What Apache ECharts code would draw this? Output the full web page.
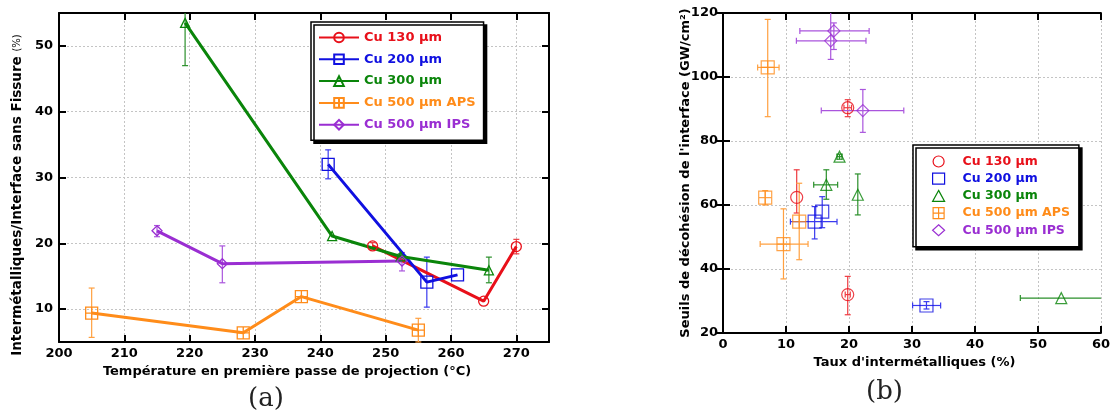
<!DOCTYPE html>
<html>
<head>
<meta charset="utf-8">
<script src="https://cdn.jsdelivr.net/npm/echarts@6/dist/echarts.min.js"></script>
<style>html,body{margin:0;padding:0;background:#fff;}#c{width:1113px;height:414px;}</style>
</head>
<body>
<div id="c"></div>
<script>
// ---------- names ----------
const seriesNames = ['Cu 130 µm', 'Cu 200 µm', 'Cu 300 µm', 'Cu 500 µm APS', 'Cu 500 µm IPS'];

// ---------- (a) temperature vs intermetallic/interface ratio ----------
const tempCu130 = [248, 265, 270];
const ratioCu130 = [19.6, 11.2, 19.5];
const ratioLoCu130 = [19.1, 11.2, 18.4];
const ratioHiCu130 = [20.1, 11.2, 20.6];

const tempCu200 = [241.2, 256.3, 261.0];
const ratioCu200 = [32.0, 14.1, 15.2];
const ratioLoCu200 = [29.8, 10.3, 15.2];
const ratioHiCu200 = [34.2, 17.9, 15.2];

const tempCu300 = [219.3, 241.8, 252.3, 265.8];
const ratioCu300 = [53.5, 21.1, 18.0, 15.9];
const ratioLoCu300 = [47.0, 21.1, 17.6, 14.0];
const ratioHiCu300 = [56.0, 21.1, 18.4, 17.9];

const tempAPS = [205.0, 228.2, 237.1, 255.0];
const ratioAPS = [9.4, 6.4, 11.9, 6.8];
const ratioLoAPS = [5.7, 6.4, 11.9, 5.0];
const ratioHiAPS = [13.2, 6.4, 11.9, 8.6];

const tempIPS = [215.0, 225.0, 252.5];
const ratioIPS = [21.9, 16.9, 17.3];
const ratioLoIPS = [21.0, 14.0, 15.8];
const ratioHiIPS = [22.7, 19.6, 18.6];

// ---------- (b) intermetallic rate vs decohesion threshold ----------
const imcCu130 = [11.7, 19.8, 19.8];
const imcLoCu130 = [11.7, 19.4, 19.2];
const imcHiCu130 = [11.7, 20.2, 20.4];
const thrCu130 = [62.4, 32.0, 90.4];
const thrLoCu130 = [57.5, 25.7, 87.6];
const thrHiCu130 = [71.0, 37.7, 92.9];

const imcCu200 = [15.75, 14.55, 32.3];
const imcLoCu200 = [15.75, 10.7, 30.1];
const imcHiCu200 = [15.75, 18.1, 34.55];
const thrCu200 = [57.9, 54.8, 28.6];
const thrLoCu200 = [52.9, 49.4, 27.5];
const thrHiCu200 = [62.6, 59.5, 29.8];

const imcCu300 = [18.5, 16.4, 21.4, 53.7];
const imcLoCu300 = [18.1, 14.4, 21.4, 47.2];
const imcHiCu300 = [18.9, 18.2, 21.4, 62.0];
const thrCu300 = [75.1, 66.3, 63.2, 30.9];
const thrLoCu300 = [74.3, 61.8, 56.9, 30.9];
const thrHiCu300 = [75.9, 71.0, 69.7, 30.9];

const imcAPS = [7.1, 6.7, 12.1, 9.6];
const imcLoAPS = [5.5, 6.7, 12.1, 5.9];
const imcHiAPS = [8.9, 6.7, 12.1, 13.5];
const thrAPS = [103.0, 62.3, 54.8, 47.8];
const thrLoAPS = [87.6, 60.0, 42.9, 36.9];
const thrHiAPS = [118.0, 64.5, 66.8, 58.8];

const imcIPS = [17.6, 17.1, 22.2];
const imcLoIPS = [12.2, 11.65, 15.6];
const imcHiIPS = [23.2, 22.7, 28.7];
const thrIPS = [114.4, 111.3, 89.5];
const thrLoIPS = [108.6, 105.5, 82.7];
const thrHiIPS = [116.9, 121.0, 96.1];

// ---------- styling ----------
const FONT = 'DejaVu Sans';
const colors = ['#e8101a', '#1010e0', '#0a850a', '#ff8c1a', '#9a2ed2'];
const errColors = ['#ee3a40', '#3a3aee', '#2a8f2a', '#ffa040', '#aa55dd'];
const sqPlus = 'path://M0,0H20V20H0Z M10,0V20 M0,10H20';
const symbolsA = ['circle', 'rect', 'triangle', sqPlus, 'diamond'];
const symSizeA = [10, 12, 9, 12, 10];
const symSizeB = [12, 13, 11, 13, 12];

const groupsA = [
  [tempCu130, ratioCu130, ratioLoCu130, ratioHiCu130],
  [tempCu200, ratioCu200, ratioLoCu200, ratioHiCu200],
  [tempCu300, ratioCu300, ratioLoCu300, ratioHiCu300],
  [tempAPS, ratioAPS, ratioLoAPS, ratioHiAPS],
  [tempIPS, ratioIPS, ratioLoIPS, ratioHiIPS]
];
const groupsB = [
  [imcCu130, thrCu130, imcLoCu130, imcHiCu130, thrLoCu130, thrHiCu130],
  [imcCu200, thrCu200, imcLoCu200, imcHiCu200, thrLoCu200, thrHiCu200],
  [imcCu300, thrCu300, imcLoCu300, imcHiCu300, thrLoCu300, thrHiCu300],
  [imcAPS, thrAPS, imcLoAPS, imcHiAPS, thrLoAPS, thrHiAPS],
  [imcIPS, thrIPS, imcLoIPS, imcHiIPS, thrLoIPS, thrHiIPS]
];

function errRender(params, api) {
  const cs = params.coordSys;
  const x = api.value(0), y = api.value(1);
  const xl = api.value(2), xh = api.value(3), yl = api.value(4), yh = api.value(5);
  const minX = cs.x, maxX = cs.x + cs.width, minY = cs.y, maxY = cs.y + cs.height;
  const cx = v => Math.max(minX, Math.min(maxX, v));
  const cy = v => Math.max(minY, Math.min(maxY, v));
  const color = api.visual('color');
  const style = { stroke: color, lineWidth: 1.2, fill: null };
  const cap = 3;
  const ch = [];
  if (yh > yl) {
    const p1 = api.coord([x, yl]), p2 = api.coord([x, yh]);
    ch.push({ type: 'line', shape: { x1: p1[0], y1: cy(p1[1]), x2: p2[0], y2: cy(p2[1]) }, style });
    if (p1[1] <= maxY) ch.push({ type: 'line', shape: { x1: p1[0] - cap, y1: p1[1], x2: p1[0] + cap, y2: p1[1] }, style });
    if (p2[1] >= minY) ch.push({ type: 'line', shape: { x1: p2[0] - cap, y1: p2[1], x2: p2[0] + cap, y2: p2[1] }, style });
  }
  if (xh > xl) {
    const p1 = api.coord([xl, y]), p2 = api.coord([xh, y]);
    ch.push({ type: 'line', shape: { x1: cx(p1[0]), y1: p1[1], x2: cx(p2[0]), y2: p2[1] }, style });
    if (p1[0] >= minX) ch.push({ type: 'line', shape: { x1: p1[0], y1: p1[1] - cap, x2: p1[0], y2: p1[1] + cap }, style });
    if (p2[0] <= maxX) ch.push({ type: 'line', shape: { x1: p2[0], y1: p2[1] - cap, x2: p2[0], y2: p2[1] + cap }, style });
  }
  return { type: 'group', children: ch };
}

const axisLineStyle = { lineStyle: { color: '#000', width: 2 } };
const tickStyle = { inside: true, length: 7, lineStyle: { color: '#000', width: 2 } };
const splitStyle = { show: true, lineStyle: { color: '#c4c4c4', width: 1, type: [2, 2] } };
const labelStyle = { color: '#000', fontFamily: FONT, fontWeight: 'bold', fontSize: 13 };
const nameStyle = { color: '#000', fontFamily: FONT, fontWeight: 'bold', fontSize: 13 };

const series = [];
groupsA.forEach((g, i) => {
  series.push({
    name: seriesNames[i], type: 'line', xAxisIndex: 0, yAxisIndex: 0, z: 3,
    data: g[0].map((v, k) => [v, g[1][k]]),
    symbol: symbolsA[i], symbolSize: symSizeA[i], showSymbol: true,
    lineStyle: { color: colors[i], width: 3 },
    itemStyle: { color: 'rgba(0,0,0,0)', borderColor: colors[i], borderWidth: 1.3 },
    emphasis: { disabled: true }
  });
  series.push({
    type: 'custom', xAxisIndex: 0, yAxisIndex: 0, z: 2, silent: true,
    itemStyle: { color: errColors[i] },
    data: g[0].map((v, k) => [v, g[1][k], v, v, g[2][k], g[3][k]]),
    renderItem: errRender
  });
});
groupsB.forEach((g, i) => {
  series.push({
    name: seriesNames[i], type: 'scatter', xAxisIndex: 2, yAxisIndex: 2, z: 3,
    data: g[0].map((v, k) => [v, g[1][k]]),
    symbol: symbolsA[i], symbolSize: symSizeB[i],
    itemStyle: { color: 'rgba(0,0,0,0)', borderColor: colors[i], borderWidth: 1.2 },
    emphasis: { disabled: true }
  });
  series.push({
    type: 'custom', xAxisIndex: 2, yAxisIndex: 2, z: 2, silent: true,
    itemStyle: { color: errColors[i] },
    data: g[0].map((v, k) => [v, g[1][k], g[2][k], g[3][k], g[4][k], g[5][k]]),
    renderItem: errRender
  });
});

const option = {
  animation: false,
  backgroundColor: '#fff',
  grid: [
    { left: 59, top: 13, width: 490, height: 329 },
    { left: 723, top: 13, width: 381, height: 320 }
  ],
  xAxis: [
    { type: 'value', gridIndex: 0, position: 'bottom', min: 200, max: 275, interval: 10,
      axisLine: axisLineStyle, axisTick: tickStyle, splitLine: splitStyle,
      axisLabel: Object.assign({ margin: 5, showMaxLabel: false }, labelStyle),
      name: 'Température en première passe de projection (°C)', nameLocation: 'middle', nameGap: 21,
      nameTextStyle: Object.assign({ padding: [0, 34, 0, 0] }, nameStyle) },
    { type: 'value', gridIndex: 0, position: 'top', min: 200, max: 275, interval: 10,
      axisLine: axisLineStyle, axisTick: tickStyle, splitLine: { show: false }, axisLabel: { show: false } },
    { type: 'value', gridIndex: 1, position: 'bottom', min: 0, max: 60, interval: 10,
      axisLine: axisLineStyle, axisTick: tickStyle, splitLine: splitStyle,
      axisLabel: Object.assign({ margin: 5 }, labelStyle),
      name: "Taux d'intermétalliques (%)", nameLocation: 'middle', nameGap: 21,
      nameTextStyle: Object.assign({ padding: [0, 0, 0, 5] }, nameStyle) },
    { type: 'value', gridIndex: 1, position: 'top', min: 0, max: 60, interval: 10,
      axisLine: axisLineStyle, axisTick: tickStyle, splitLine: { show: false }, axisLabel: { show: false } }
  ],
  yAxis: [
    { type: 'value', gridIndex: 0, position: 'left', min: 5, max: 55, splitNumber: 5,
      axisLine: axisLineStyle, axisTick: tickStyle, splitLine: splitStyle,
      axisLabel: Object.assign({ margin: 6, showMinLabel: false, showMaxLabel: false }, labelStyle),
      name: '{b|Intermétalliques/Interface sans Fissure }{s|(%)}', nameLocation: 'middle', nameGap: 35,
      nameTextStyle: { padding: [0, 35, 0, 0], rich: {
        b: { color: '#000', fontFamily: FONT, fontWeight: 'bold', fontSize: 13.5 },
        s: { color: '#000', fontFamily: FONT, fontWeight: 'normal', fontSize: 10 } } } },
    { type: 'value', gridIndex: 0, position: 'right', min: 5, max: 55, splitNumber: 5,
      axisLine: axisLineStyle, axisTick: tickStyle, splitLine: { show: false }, axisLabel: { show: false } },
    { type: 'value', gridIndex: 1, position: 'left', min: 20, max: 120, interval: 20,
      axisLine: axisLineStyle, axisTick: tickStyle, splitLine: splitStyle,
      axisLabel: Object.assign({ margin: 5 }, labelStyle),
      name: "Seuils de décohésion de l'interface (GW/cm²)", nameLocation: 'middle', nameGap: 31,
      nameMoveOverlap: false,
      nameTextStyle: nameStyle },
    { type: 'value', gridIndex: 1, position: 'right', min: 20, max: 120, interval: 20,
      axisLine: axisLineStyle, axisTick: tickStyle, splitLine: { show: false }, axisLabel: { show: false } }
  ],
  legend: [
    { orient: 'vertical', left: 311, top: 22, padding: [9, 8, 9, 7], itemWidth: 40, itemHeight: 12, itemGap: 8.8,
      backgroundColor: '#fff', borderColor: '#000', borderWidth: 1.5,
      shadowColor: '#000', shadowBlur: 0, shadowOffsetX: 3, shadowOffsetY: 3,
      selectedMode: false,
      textStyle: { fontFamily: FONT, fontWeight: 'bold', fontSize: 13 },
      data: seriesNames.map((n, i) => ({ name: n, textStyle: { color: colors[i] } })) },
    { orient: 'vertical', left: 913, top: 145, padding: [10, 9, 10, 19], itemWidth: 12, itemHeight: 11, itemGap: 4.2,
      backgroundColor: '#fff', borderColor: '#000', borderWidth: 1.5,
      shadowColor: '#000', shadowBlur: 0, shadowOffsetX: 3, shadowOffsetY: 3,
      selectedMode: false,
      textStyle: { fontFamily: FONT, fontWeight: 'bold', fontSize: 12.5, padding: [0, 0, 0, 13] },
      data: seriesNames.map((n, i) => ({ name: n, icon: symbolsA[i],
        itemStyle: { color: 'rgba(0,0,0,0)', borderColor: colors[i], borderWidth: 1.2 },
        textStyle: { color: colors[i] } })) }
  ],
  graphic: [
    { type: 'text', left: 248, top: 386, style: { text: '(a)', fill: '#222', font: '26px "DejaVu Serif"' } },
    { type: 'text', left: 866, top: 379, style: { text: '(b)', fill: '#222', font: '26px "DejaVu Serif"' } }
  ],
  series: series
};

const chart = echarts.init(document.getElementById('c'), null, { renderer: 'canvas' });
chart.setOption(option);
</script>
</body>
</html>
